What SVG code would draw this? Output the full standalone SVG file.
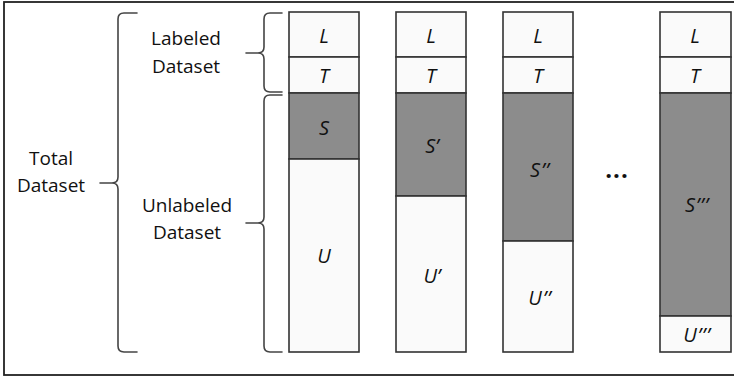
<svg xmlns="http://www.w3.org/2000/svg" width="734" height="377" viewBox="0 0 734 377">
  <style>
    .lbl { font-family: "Open Sans", "Liberation Sans", sans-serif; font-size: 19px; fill: #111; text-anchor: middle; }
    .sym { font-family: "Open Sans", "Liberation Sans", sans-serif; font-size: 20px; font-style: italic; fill: #111; text-anchor: middle; }
    .cell { stroke: #333; stroke-width: 1.6; }
    .light { fill: #fafafa; }
    .dark { fill: #8c8c8c; }
    .brace { fill: none; stroke: #444; stroke-width: 1.6; stroke-linejoin: round; stroke-linecap: round; }
  </style>

  <rect x="0" y="0" width="734" height="377" fill="#ffffff"/>
  <!-- outer frame -->
  <rect x="4" y="2" width="732" height="373" fill="none" stroke="#222" stroke-width="1.8"/>

  <!-- labels on the left -->
  <g id="total-label">
    <text class="lbl" x="51" y="165">Total</text>
    <text class="lbl" x="51" y="192">Dataset</text>
  </g>
  <g id="labeled-label">
    <text class="lbl" x="186" y="45">Labeled</text>
    <text class="lbl" x="186" y="73">Dataset</text>
  </g>
  <g id="unlabeled-label">
    <text class="lbl" x="187" y="212">Unlabeled</text>
    <text class="lbl" x="187" y="239">Dataset</text>
  </g>

  <!-- braces -->
  <g id="connectors">
    <path class="brace" d="M137,13 L124,13 Q118,13 118,19 L118,177 Q118,183 112,183 L100,183 M112,183 Q118,183 118,189 L118,346 Q118,352 124,352 L137,352"/>
    <path class="brace" d="M282,13 L270,13 Q264,13 264,19 L264,47 Q264,53 258,53 L246,53 M258,53 Q264,53 264,59 L264,86 Q264,92 270,92 L282,92"/>
    <path class="brace" d="M282,95 L270,95 Q264,95 264,101 L264,217 Q264,223 258,223 L246,223 M258,223 Q264,223 264,229 L264,346 Q264,352 270,352 L282,352"/>
  </g>

  <!-- column 1 -->
  <g id="col1">
    <rect class="cell light" x="289" y="12" width="70" height="45"/>
    <rect class="cell light" x="289" y="57" width="70" height="36"/>
    <rect class="cell dark" x="289" y="93" width="70" height="66"/>
    <rect class="cell light" x="289" y="159" width="70" height="193"/>
    <text class="sym" x="324" y="43">L</text>
    <text class="sym" x="324" y="83">T</text>
    <text class="sym" x="324" y="135">S</text>
    <text class="sym" x="324" y="263">U</text>
  </g>

  <!-- column 2 -->
  <g id="col2">
    <rect class="cell light" x="396" y="12" width="70" height="45"/>
    <rect class="cell light" x="396" y="57" width="70" height="36"/>
    <rect class="cell dark" x="396" y="93" width="70" height="103"/>
    <rect class="cell light" x="396" y="196" width="70" height="156"/>
    <text class="sym" x="431" y="43">L</text>
    <text class="sym" x="431" y="83">T</text>
    <text class="sym" x="432" y="153">S’</text>
    <text class="sym" x="432" y="283">U’</text>
  </g>

  <!-- column 3 -->
  <g id="col3">
    <rect class="cell light" x="503" y="12" width="70" height="45"/>
    <rect class="cell light" x="503" y="57" width="70" height="36"/>
    <rect class="cell dark" x="503" y="93" width="70" height="148"/>
    <rect class="cell light" x="503" y="241" width="70" height="111"/>
    <text class="sym" x="538" y="43">L</text>
    <text class="sym" x="538" y="83">T</text>
    <text class="sym" x="540" y="177" letter-spacing="1">S’’</text>
    <text class="sym" x="540" y="305" letter-spacing="1">U’’</text>
  </g>

  <g id="ellipsis">
    <text x="617" y="178" font-family="Open Sans, Liberation Sans, sans-serif" font-size="24" font-weight="bold" fill="#111" text-anchor="middle" letter-spacing="1">...</text>
  </g>

  <!-- last column -->
  <g id="col4">
    <rect class="cell light" x="660" y="12" width="71" height="45"/>
    <rect class="cell light" x="660" y="57" width="71" height="36"/>
    <rect class="cell dark" x="660" y="93" width="71" height="223"/>
    <rect class="cell light" x="660" y="316" width="71" height="36"/>
    <text class="sym" x="695" y="43">L</text>
    <text class="sym" x="695" y="83">T</text>
    <text class="sym" x="697" y="212" letter-spacing="1">S’’’</text>
    <text class="sym" x="697" y="342" letter-spacing="1">U’’’</text>
  </g>
</svg>
